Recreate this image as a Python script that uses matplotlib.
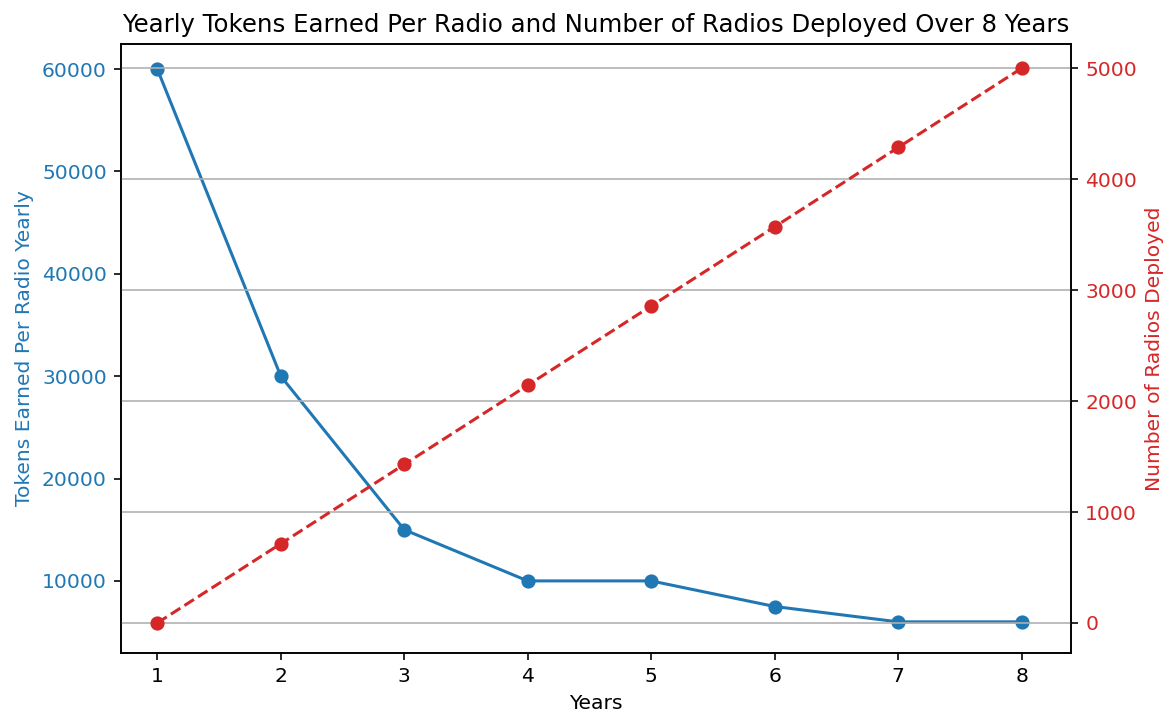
import matplotlib.pyplot as plt

# data
years = [1, 2, 3, 4, 5, 6, 7, 8]
tokens_per_radio = [60000, 30000, 15000, 10000, 10000, 7500, 6000, 6000]
radios_deployed = [0, 714, 1429, 2143, 2857, 3571, 4286, 5000]

dpi = 146
fig, ax1 = plt.subplots(figsize=(1172 / dpi, 715 / dpi), dpi=dpi)

color1 = 'tab:blue'
ax1.set_xlabel('Years')
ax1.set_ylabel('Tokens Earned Per Radio Yearly', color=color1)
ax1.plot(years, tokens_per_radio, color=color1, marker='o', label='Tokens per Radio')
ax1.tick_params(axis='y', labelcolor=color1)
ax1.set_xlim(0.706, 8.40)
ax1.set_ylim(2958, 62445)

ax2 = ax1.twinx()
color2 = 'tab:red'
ax2.set_ylabel('Number of Radios Deployed', color=color2)
ax2.plot(years, radios_deployed, color=color2, marker='o', linestyle='--', label='Radios Deployed')
ax2.tick_params(axis='y', labelcolor=color2)
ax2.set_ylim(-271, 5219)
ax2.grid(True)

plt.title('Yearly Tokens Earned Per Radio and Number of Radios Deployed Over 8 Years')
fig.subplots_adjust(left=121 / 1172, right=1071 / 1172, top=1 - 44 / 715, bottom=1 - 653 / 715)
plt.savefig('out.png', dpi=dpi)
plt.close()
